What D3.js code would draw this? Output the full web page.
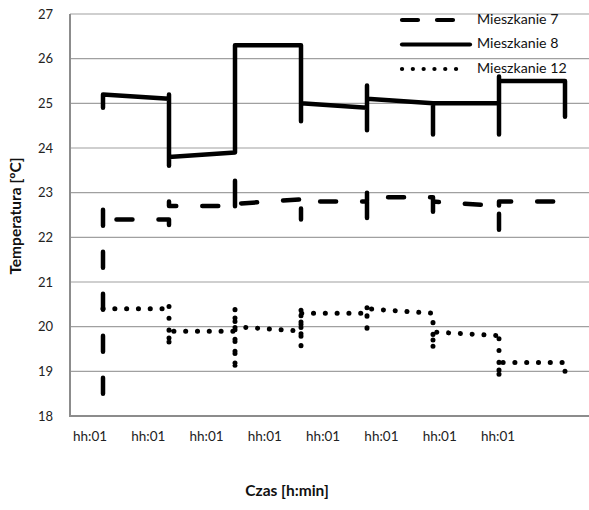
<!DOCTYPE html>
<html>
<head>
<meta charset="utf-8">
<script src="https://cdn.jsdelivr.net/npm/d3@7"></script>
<style>
  body { margin: 0; background: #fff; }
  svg { display: block; font-family: Lato, "Open Sans", sans-serif; }
</style>
</head>
<body>
<div id="chart"></div>
<script>
// tick labels on the category axis
const categories = ['hh:01', 'hh:01', 'hh:01', 'hh:01', 'hh:01', 'hh:01', 'hh:01', 'hh:01'];
const yTicks = [18, 19, 20, 21, 22, 23, 24, 25, 26, 27];

// each series: [category index, temperature] vertices, in drawing order
const mieszkanie7 = [
    [0, 18.5], [0, 22.65], [0, 22.4], [1, 22.4], [1, 22.2], [1, 22.8], [1, 22.7],
    [2, 22.7], [2, 23.45], [2, 22.5], [2, 22.75], [3, 22.85], [3, 22.95], [3, 22.4],
    [3, 22.8], [4, 22.8], [4, 23.0], [4, 22.4], [4, 22.9], [5, 22.9], [5, 22.3],
    [5, 22.8], [6, 22.7], [6, 22.15], [6, 22.8], [7, 22.8],
];
const mieszkanie8 = [
    [0, 24.9], [0, 25.2], [1, 25.1], [1, 25.2], [1, 23.6], [1, 23.8], [2, 23.9],
    [2, 26.3], [3, 26.3], [3, 24.6], [3, 25.0], [4, 24.9], [4, 25.4], [4, 24.4],
    [4, 25.1], [5, 25.0], [5, 24.3], [5, 25.0], [6, 25.0], [6, 24.3], [6, 25.6],
    [6, 25.5], [7, 25.5], [7, 24.7],
];
const mieszkanie12 = [
    [0, 20.4], [1, 20.4], [1, 20.48], [1, 19.57], [1, 19.9], [2, 19.9], [2, 20.42],
    [2, 19.03], [2, 20.0], [3, 19.9], [3, 20.44], [3, 19.55], [3, 20.3], [4, 20.3],
    [4, 20.46], [4, 19.84], [4, 20.4], [5, 20.3], [5, 20.26], [5, 19.5], [5, 19.88],
    [6, 19.8], [6, 19.86], [6, 18.85], [6, 19.2], [7, 19.2], [7, 19.16], [7, 18.9],
];

const series = [
    { name: 'Mieszkanie 7', data: mieszkanie7, dash: '16,26', width: 4.5, keyDash: '16,19', keyLen: 55 },
    { name: 'Mieszkanie 8', data: mieszkanie8, dash: null, width: 4.5, keyDash: null, keyLen: 70 },
    { name: 'Mieszkanie 12', data: mieszkanie12, dash: '0.1,11.7', width: 5, keyDash: '0.1,10.7', keyLen: 66 },
];

const width = 589, height = 510;
const plot = { left: 70, top: 14, bottom: 416, right: 598 };

const svg = d3.select('#chart').append('svg')
    .attr('width', width)
    .attr('height', height);

const y = d3.scaleLinear().domain([18, 27]).range([plot.bottom, plot.top]);
const xBand = d3.scaleBand().domain(d3.range(categories.length)).range([plot.left, plot.right]);
const x = (i) => xBand(i) + xBand.bandwidth() / 2;
// tick labels sit a little left of the data points in the original
const xLabel = d3.scalePoint().domain(d3.range(categories.length)).range([90, 498]);

// gridlines
svg.append('g')
    .selectAll('line')
    .data(yTicks.filter((d) => d > 18))
    .join('line')
    .attr('x1', plot.left)
    .attr('x2', width)
    .attr('y1', (d) => y(d))
    .attr('y2', (d) => y(d))
    .attr('stroke', '#a0a0a0')
    .attr('stroke-width', 1.2);

// axis lines
svg.append('path')
    .attr('d', `M${plot.left},${plot.top}V${plot.bottom}H${width}`)
    .attr('fill', 'none')
    .attr('stroke', '#8c8c8c')
    .attr('stroke-width', 2);

// y tick labels
svg.append('g')
    .selectAll('text')
    .data(yTicks)
    .join('text')
    .attr('x', 53)
    .attr('y', (d) => y(d))
    .attr('dy', '0.35em')
    .attr('text-anchor', 'end')
    .attr('font-size', 13)
    .attr('fill', '#222')
    .text((d) => d);

// x tick labels
svg.append('g')
    .selectAll('text')
    .data(categories)
    .join('text')
    .attr('x', (d, i) => xLabel(i))
    .attr('y', 441)
    .attr('text-anchor', 'middle')
    .attr('font-size', 13.5)
    .attr('fill', '#222')
    .text((d) => d);

// axis titles
svg.append('text')
    .attr('transform', 'translate(21,216) rotate(-90)')
    .attr('text-anchor', 'middle')
    .attr('font-size', 15.5)
    .attr('font-weight', 'bold')
    .attr('fill', '#111')
    .text('Temperatura [ºC]');

svg.append('text')
    .attr('x', 287)
    .attr('y', 496)
    .attr('text-anchor', 'middle')
    .attr('font-size', 15.5)
    .attr('font-weight', 'bold')
    .attr('fill', '#111')
    .text('Czas [h:min]');

// series lines
const line = d3.line()
    .x((d) => x(d[0]))
    .y((d) => y(d[1]));

svg.append('g')
    .selectAll('path')
    .data(series)
    .join('path')
    .attr('d', (d) => line(d.data))
    .attr('fill', 'none')
    .attr('stroke', '#000')
    .attr('stroke-width', (d) => d.width)
    .attr('stroke-linecap', 'round')
    .attr('stroke-linejoin', 'round')
    .attr('stroke-dasharray', (d) => d.dash);

// legend
const legend = svg.append('g').attr('transform', 'translate(400,20)');
const item = legend.selectAll('g')
    .data(series)
    .join('g')
    .attr('transform', (d, i) => `translate(0,${i * 24.5})`);
item.append('path')
    .attr('d', (d) => `M2,0H${d.keyLen}`)
    .attr('stroke', '#000')
    .attr('stroke-width', 4.2)
    .attr('stroke-linecap', 'round')
    .attr('stroke-dasharray', (d) => d.keyDash);
item.append('text')
    .attr('x', 77)
    .attr('y', -1)
    .attr('dy', '0.35em')
    .attr('font-size', 14.2)
    .attr('fill', '#111')
    .text((d) => d.name);
</script>
</body>
</html>
